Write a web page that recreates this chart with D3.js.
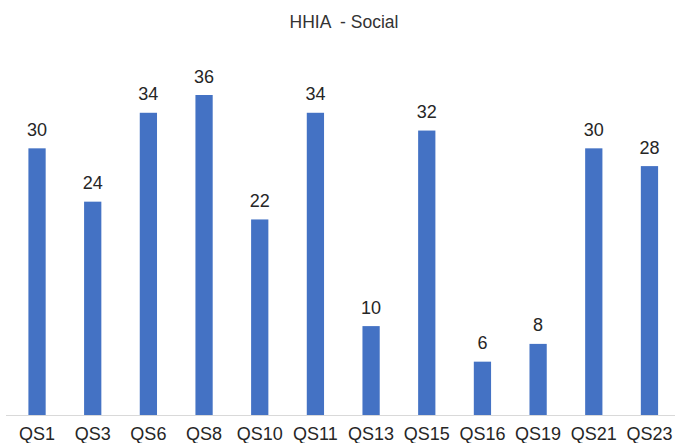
<!DOCTYPE html>
<html>
<head>
<meta charset="utf-8">
<script src="https://cdn.jsdelivr.net/npm/d3@7"></script>
<style>
  html, body { margin: 0; padding: 0; background: #ffffff; }
  svg { display: block; }
  text { font-family: "Liberation Sans", Arial, sans-serif; fill: #262626; }
</style>
</head>
<body>
<script>
const categories = ["QS1","QS3","QS6","QS8","QS10","QS11","QS13","QS15","QS16","QS19","QS21","QS23"];
const values = [30, 24, 34, 36, 22, 34, 10, 32, 6, 8, 30, 28];
const title = "HHIA  - Social";

const W = 675, H = 443;
const svg = d3.select("body").append("svg").attr("width", W).attr("height", H);

const x = d3.scaleBand().domain(categories).range([9.2, 677.3]).paddingInner(0.69).paddingOuter(0.345);
const y = d3.scaleLinear().domain([0, 36]).range([415, 95]);

// axis baseline
svg.append("line")
  .attr("x1", 6).attr("x2", 675)
  .attr("y1", y(0) + 0.5).attr("y2", y(0) + 0.5)
  .attr("stroke", "#d9d9d9").attr("stroke-width", 1.2);

// bars
svg.append("g").selectAll("rect").data(values).join("rect")
  .attr("x", (d, i) => x(categories[i]))
  .attr("width", x.bandwidth())
  .attr("y", d => y(d))
  .attr("height", d => y(0) - y(d))
  .attr("fill", "#4472C4");

// value labels
svg.append("g").selectAll("text").data(values).join("text")
  .attr("x", (d, i) => x(categories[i]) + x.bandwidth() / 2)
  .attr("y", d => y(d) - 12.5)
  .attr("text-anchor", "middle")
  .style("font-size", "18px")
  .text(d => d);

// category axis labels
const xAxis = d3.axisBottom(x).tickSize(0).tickPadding(0);
const gx = svg.append("g").attr("transform", `translate(0, ${y(0)})`).call(xAxis);
gx.select(".domain").remove();
gx.selectAll("text")
  .attr("y", 25).attr("dy", null)
  .style("font-size", "18px")
  .style("font-family", "'Liberation Sans', Arial, sans-serif")
  .attr("fill", "#262626");

// title
svg.append("text")
  .attr("x", 344).attr("y", 27.5)
  .attr("text-anchor", "middle")
  .style("font-size", "17.5px")
  .style("white-space", "pre")
  .style("fill", "#333333")
  .text(title);
</script>
</body>
</html>
